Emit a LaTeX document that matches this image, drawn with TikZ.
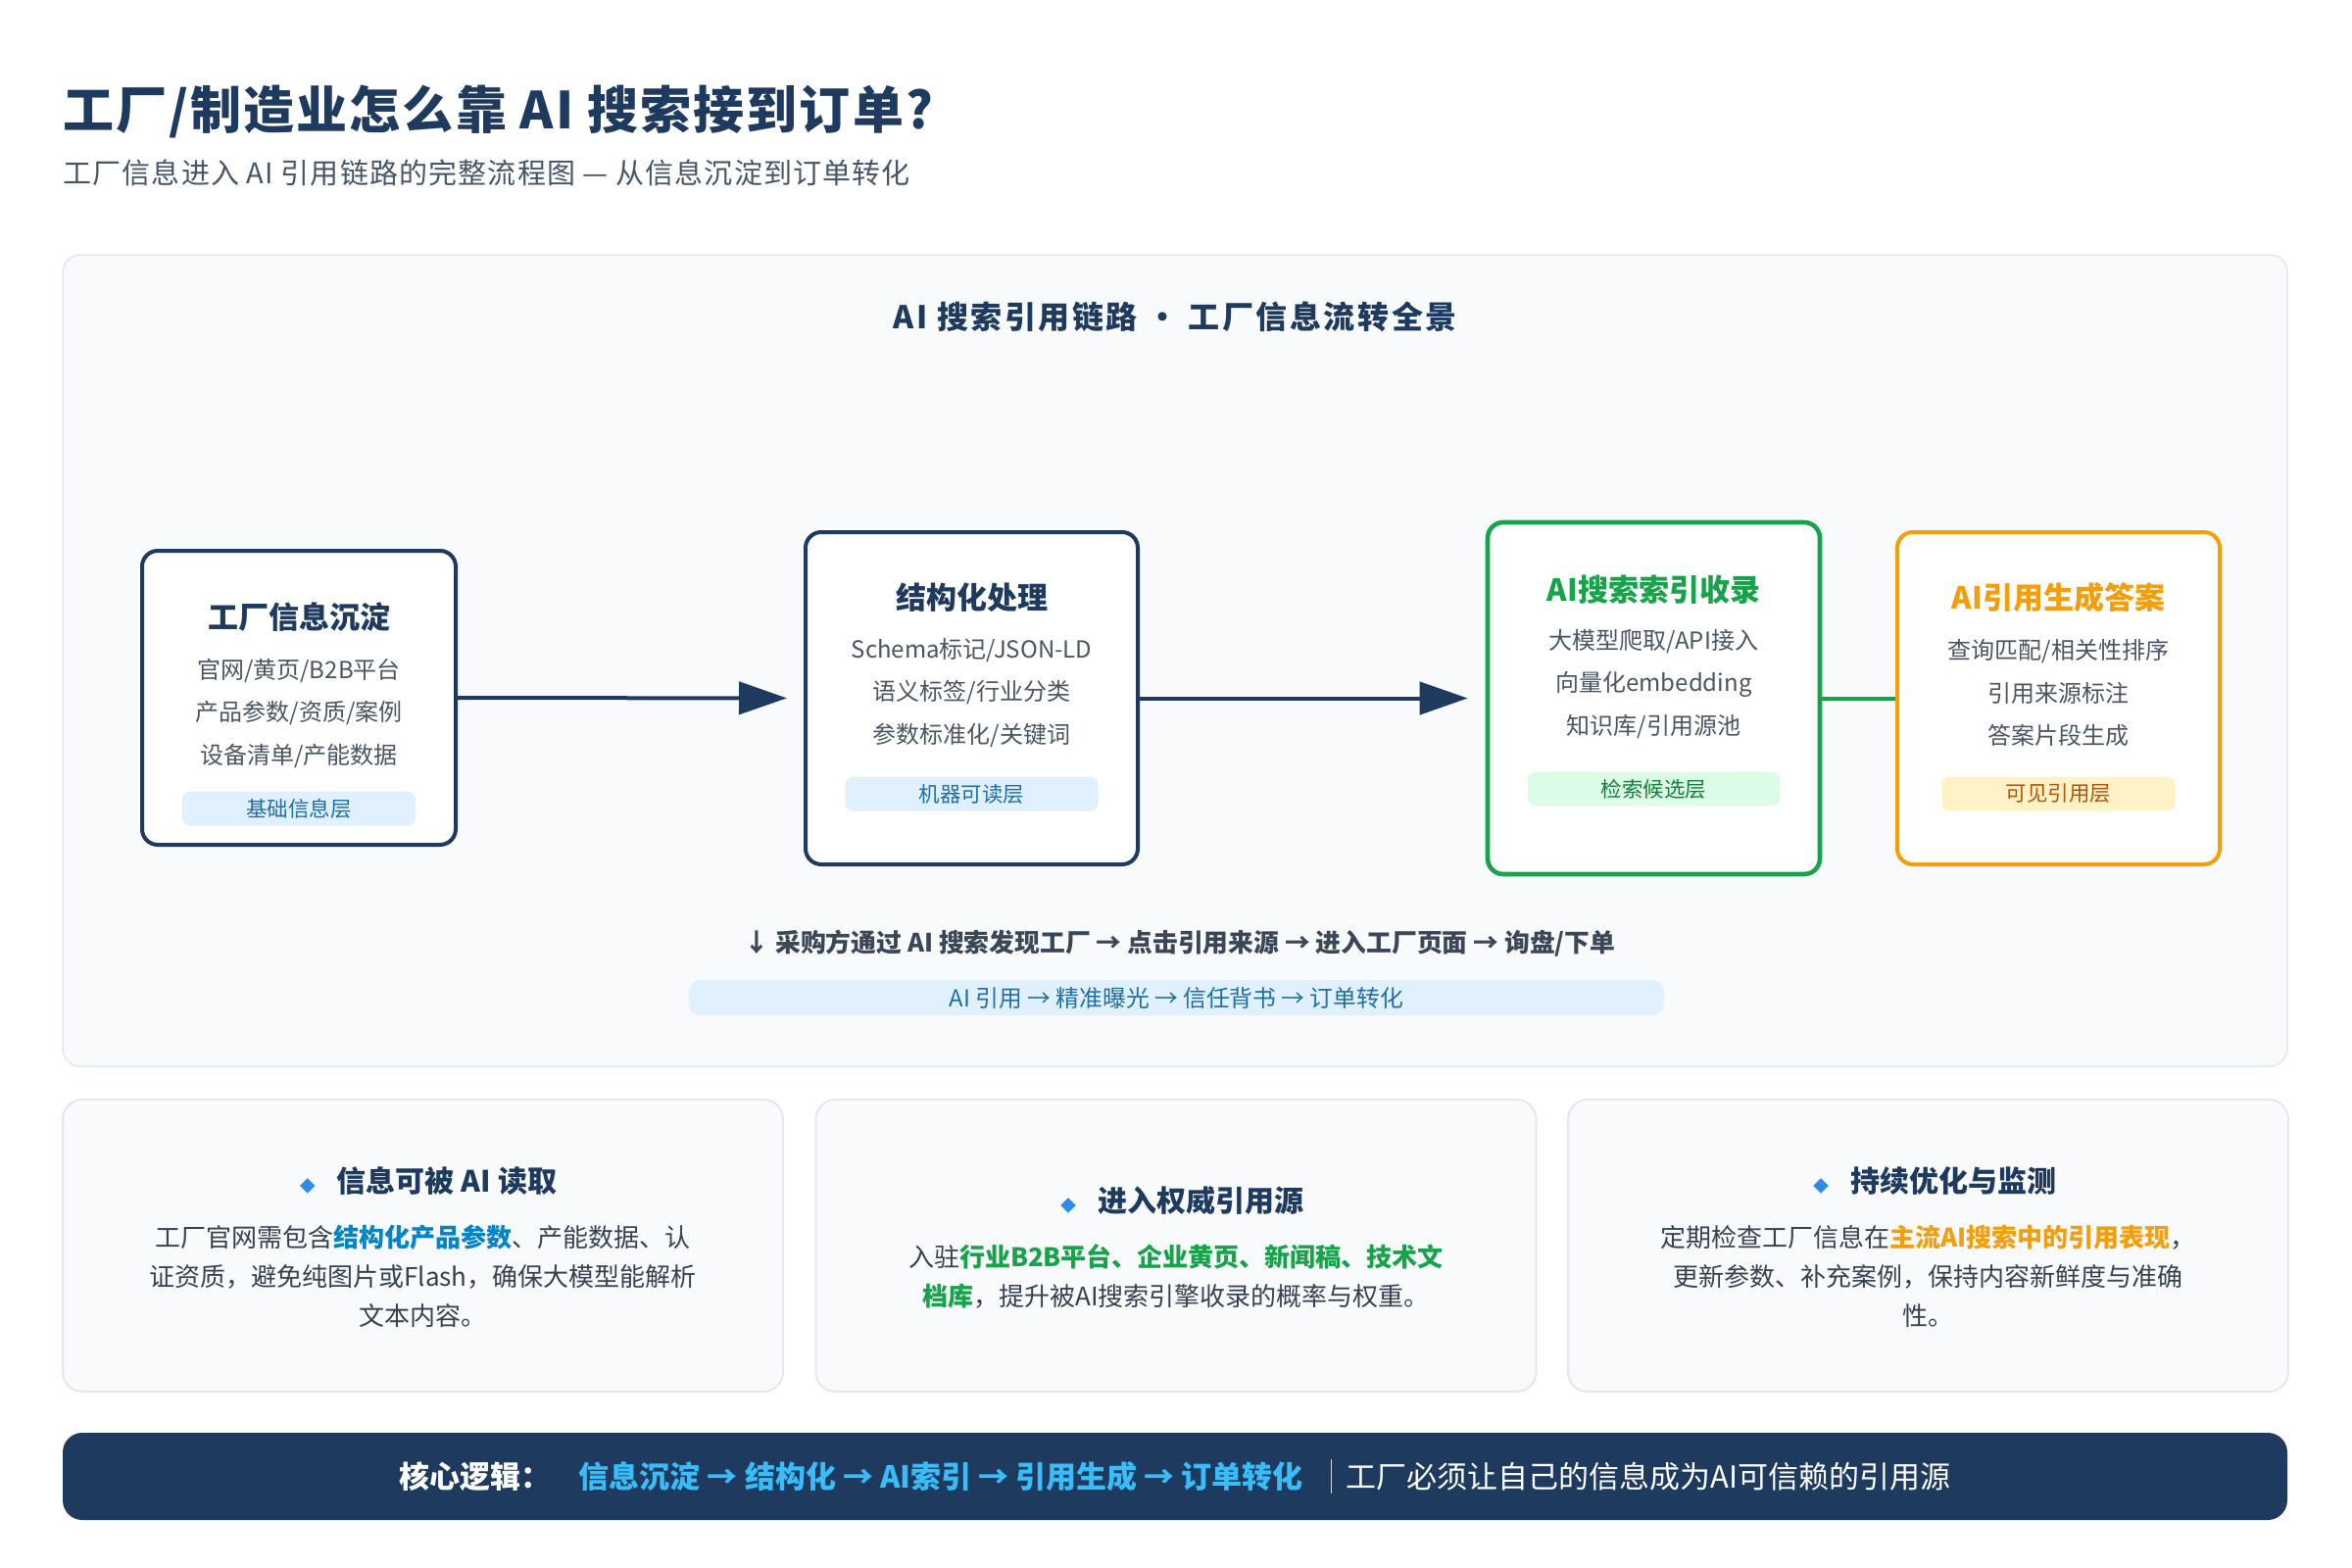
\documentclass[tikz,border=0pt]{standalone}
\usepackage{fontspec}
\setmainfont{Noto Sans CJK SC}
\usetikzlibrary{arrows.meta,positioning}
\definecolor{navy}{HTML}{1E3A5F}
\definecolor{subgray}{HTML}{475569}
\definecolor{panelbg}{HTML}{F8FAFC}
\definecolor{panelline}{HTML}{E2E8F0}
\definecolor{boxtxt}{HTML}{4B5563}
\definecolor{tagblue}{HTML}{E0F0FD}
\definecolor{tagbluetxt}{HTML}{1E6FA8}
\definecolor{grn}{HTML}{16A34A}
\definecolor{taggrn}{HTML}{DCFCE7}
\definecolor{taggrntxt}{HTML}{15803D}
\definecolor{org}{HTML}{F59E0B}
\definecolor{tagorg}{HTML}{FEF3C7}
\definecolor{tagorgtxt}{HTML}{B45309}
\definecolor{flowtxt}{HTML}{3B4656}
\definecolor{bodytxt}{HTML}{374151}
\definecolor{hlblue}{HTML}{0284C7}
\definecolor{skyblue}{HTML}{38BDF8}
\definecolor{diam}{HTML}{2E8BEA}

\begin{document}
\begin{tikzpicture}[x=0.5pt,y=-0.5pt,>={Triangle[length=24.5pt,width=16.5pt]}]
\tikzstyle{box}=[draw=navy,line width=2pt,rounded corners=8pt,fill=white,inner sep=0pt,minimum height=169.5pt,minimum width=169.5pt]
\tikzstyle{bt}=[font=\fontsize{15.5pt}{18pt}\selectfont\bfseries,text=navy]
\tikzstyle{bl}=[align=center,font=\fontsize{12pt}{21.75pt}\selectfont,text=boxtxt]
\tikzstyle{tag}=[rounded corners=4pt,minimum height=17.5pt,inner sep=0pt,font=\fontsize{10.75pt}{12pt}\selectfont]
\tikzstyle{card}=[draw=panelline,line width=1pt,fill=panelbg,rounded corners=10pt,minimum width=367.5pt,minimum height=149pt,inner sep=0pt]
\tikzstyle{ct}=[font=\fontsize{15pt}{18pt}\selectfont\bfseries,text=navy]
\tikzstyle{cb}=[align=center,font=\fontsize{13pt}{20pt}\selectfont,text=bodytxt]
\useasboundingbox (0,0) rectangle (2400,1600);
\fill[white] (0,0) rectangle (2400,1600);
\node[anchor=west,inner sep=0pt,font=\fontsize{26pt}{30pt}\selectfont\bfseries\addfontfeatures{LetterSpace=4},text=navy] (title) at (64,114) {工厂/制造业怎么靠 AI 搜索接到订单?};
\node[anchor=west,inner sep=0pt,font=\fontsize{14.5pt}{16pt}\selectfont\addfontfeatures{LetterSpace=4},text=subgray] (subtitle) at (64,176) {工厂信息进入 AI 引用链路的完整流程图 — 从信息沉淀到订单转化};
\node[draw=panelline,line width=0.75pt,fill=panelbg,rounded corners=9pt,minimum width=1135pt,minimum height=414pt,inner sep=0pt] (panel) at (1199,674) {};
\node[font=\fontsize{16pt}{18pt}\selectfont\bfseries\addfontfeatures{LetterSpace=8},text=navy] (ptitle) at (1199,323) {AI 搜索引用链路 · 工厂信息流转全景};
\node[box,minimum width=160pt,minimum height=150pt] (b1) at (305,712) {};
\node[box] (b2) at (991.5,712.5) {};
\node[box,draw=grn,line width=2.3pt,minimum height=179.5pt] (b3) at (1687.5,712.5) {};
\node[box,draw=org,minimum width=164.5pt] (b4) at (2100.5,712.5) {};
\node[bt] (b1t) at (305,630) {工厂信息沉淀};
\node[bl] (b1l) at (305,728) {官网/黄页/B2B平台\\产品参数/资质/案例\\设备清单/产能数据};
\node[tag,fill=tagblue,text=tagbluetxt,minimum width=119pt] (b1g) at (305,825) {基础信息层};
\node[bt] (b2t) at (991.5,610) {结构化处理};
\node[bl] (b2l) at (991.5,707) {Schema标记/JSON-LD\\语义标签/行业分类\\参数标准化/关键词};
\node[tag,fill=tagblue,text=tagbluetxt,minimum width=129pt] (b2g) at (991.5,810) {机器可读层};
\node[bt,text=grn] (b3t) at (1687.5,602) {AI搜索索引收录};
\node[bl] (b3l) at (1687.5,698) {大模型爬取/API接入\\向量化embedding\\知识库/引用源池};
\node[tag,fill=taggrn,text=taggrntxt,minimum width=128.5pt] (b3g) at (1687.5,805) {检索候选层};
\node[bt,text=org] (b4t) at (2100.5,610) {AI引用生成答案};
\node[bl] (b4l) at (2100.5,707) {查询匹配/相关性排序\\引用来源标注\\答案片段生成};
\node[tag,fill=tagorg,text=tagorgtxt,minimum width=119pt] (b4g) at (2100.5,810) {可见引用层};
\draw[->,navy,line width=2pt,shorten >=8.5pt] (b1) -- (b2);
\draw[->,navy,line width=2pt,shorten >=9pt] (b2) -- (b3);
\draw[grn,line width=2pt] (b3) -- (b4);
\node[font=\fontsize{12.9pt}{15pt}\selectfont\bfseries,text=flowtxt] (flow) at (1204,963) {↓ 采购方通过 AI 搜索发现工厂 → 点击引用来源 → 进入工厂页面 → 询盘/下单};
\node[fill=tagblue,rounded corners=6pt,minimum width=497.5pt,minimum height=18pt,inner sep=0pt,text=tagbluetxt,font=\fontsize{11.9pt}{13pt}\selectfont] (pill) at (1200.5,1018) {AI 引用 → 精准曝光 → 信任背书 → 订单转化};
\node[card] (c1) at (431.5,1271) {};
\node[card] (c2) at (1200,1271) {};
\node[card] (c3) at (1967.5,1271) {};
\node[ct] (c1t) at (437,1205) {{\color{diam}\fontsize{8pt}{8pt}\selectfont ◆}\hspace{11pt}信息可被 AI 读取};
\node[cb] (c1b) at (431.5,1302) {工厂官网需包含{\bfseries\color{hlblue}结构化产品参数}、产能数据、认\\证资质，避免纯图片或Flash，确保大模型能解析\\文本内容。};
\node[ct] (c2t) at (1206,1225) {{\color{diam}\fontsize{8pt}{8pt}\selectfont ◆}\hspace{11pt}进入权威引用源};
\node[cb] (c2b) at (1200,1302) {入驻{\bfseries\color{grn}行业B2B平台、企业黄页、新闻稿、技术文}\\{\bfseries\color{grn}档库}，提升被AI搜索引擎收录的概率与权重。};
\node[ct] (c3t) at (1974,1205) {{\color{diam}\fontsize{8pt}{8pt}\selectfont ◆}\hspace{11pt}持续优化与监测};
\node[cb] (c3b) at (1967.5,1302) {定期检查工厂信息在{\bfseries\color{org}主流AI搜索中的引用表现}，\\更新参数、补充案例，保持内容新鲜度与准确\\性。};
\node[fill=navy,rounded corners=10pt,minimum width=1135pt,minimum height=44.5pt,inner sep=0pt,text=white,font=\fontsize{15.5pt}{18pt}\selectfont] (core) at (1199,1506.5) {{\bfseries 核心逻辑：}\hspace{14pt}{\bfseries\color{skyblue}信息沉淀 → 结构化 → AI索引 → 引用生成 → 订单转化}\hspace{14pt}{\color{white!80!navy}\rule[-0.2em]{0.6pt}{1.15em}}\hspace{7pt}工厂必须让自己的信息成为AI可信赖的引用源};
\end{tikzpicture}
\end{document}
